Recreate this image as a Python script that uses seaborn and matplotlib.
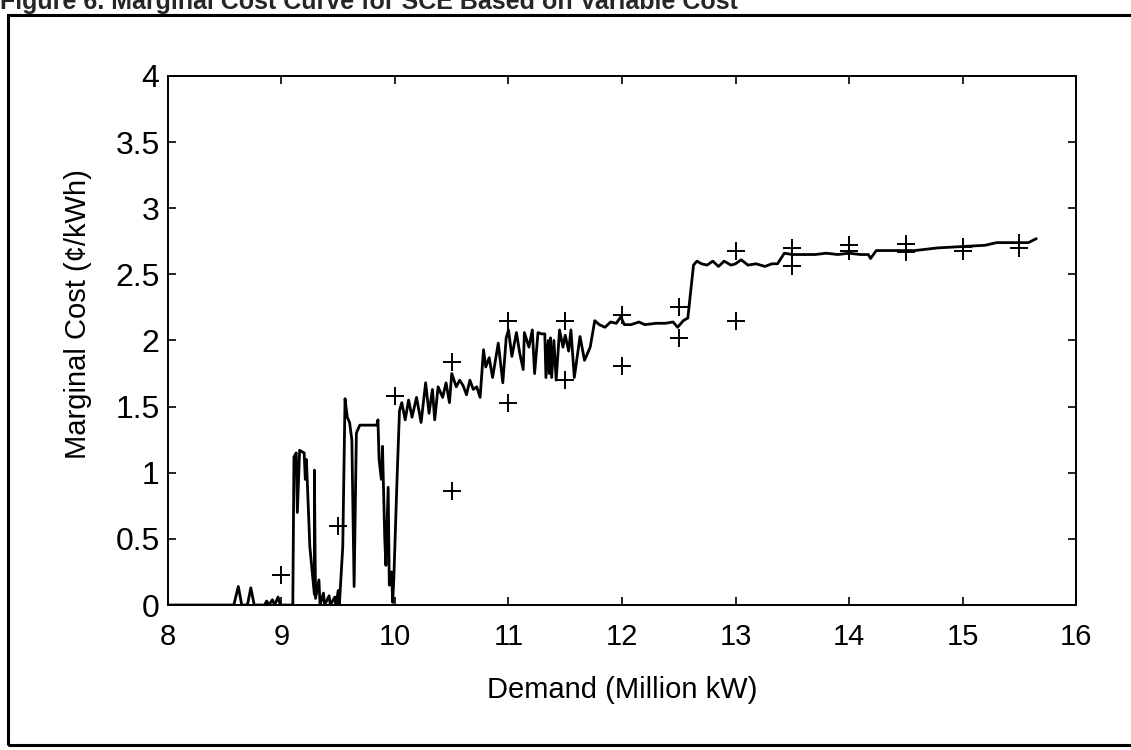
import matplotlib
matplotlib.use('Agg')
import matplotlib.pyplot as plt
import matplotlib.patches as patches
import seaborn as sns

# marginal cost curve (in drawing order)
demand = [8.00, 8.58, 8.62, 8.65, 8.70, 8.73, 8.76, 8.85, 8.87, 8.89, 8.92, 8.94, 8.97, 8.99,
          9.10, 9.11, 9.13, 9.14, 9.16, 9.20, 9.21, 9.22, 9.25, 9.29, 9.29, 9.30, 9.33, 9.34,
          9.37, 9.38, 9.42, 9.43, 9.47, 9.48, 9.50, 9.51, 9.54, 9.56, 9.58, 9.60, 9.62, 9.64,
          9.66, 9.69, 9.84, 9.85, 9.86, 9.88, 9.89, 9.91, 9.92, 9.94, 9.95, 9.97, 9.98, 9.99,
          10.02, 10.04, 10.06, 10.09, 10.12, 10.15, 10.19, 10.23, 10.27, 10.30, 10.33, 10.35,
          10.38, 10.42, 10.45, 10.48, 10.50, 10.54, 10.57, 10.60, 10.63, 10.66, 10.69, 10.72,
          10.75, 10.78, 10.80, 10.83, 10.86, 10.91, 10.95, 10.98, 11.00, 11.03, 11.07, 11.10,
          11.13, 11.14, 11.18, 11.21, 11.23, 11.26, 11.29, 11.32, 11.33, 11.35, 11.36, 11.37,
          11.38, 11.40, 11.42, 11.45, 11.48, 11.50, 11.53, 11.55, 11.58, 11.63, 11.67, 11.72,
          11.76, 11.80, 11.85, 11.90, 11.95, 11.99, 12.02, 12.08, 12.15, 12.20, 12.30, 12.38,
          12.45, 12.49, 12.54, 12.58, 12.63, 12.66, 12.70, 12.75, 12.80, 12.85, 12.90, 12.96,
          13.00, 13.05, 13.11, 13.18, 13.26, 13.32, 13.37, 13.43, 13.50, 13.60, 13.70, 13.80,
          13.90, 14.00, 14.10, 14.17, 14.19, 14.24, 14.40, 14.58, 14.78, 14.99, 15.20, 15.30,
          15.58, 15.65]
cost = [0.00, 0.00, 0.14, 0.00, 0.00, 0.13, 0.00, 0.00, 0.03, 0.00, 0.04, 0.00, 0.06, 0.00,
        0.00, 1.12, 1.15, 0.70, 1.17, 1.15, 0.95, 1.10, 0.44, 0.08, 1.02, 0.05, 0.19, 0.00,
        0.09, 0.00, 0.07, 0.00, 0.06, 0.00, 0.11, 0.00, 0.44, 1.56, 1.42, 1.38, 1.25, 0.14,
        1.30, 1.36, 1.36, 1.40, 1.10, 0.95, 1.20, 0.50, 0.30, 0.89, 0.15, 0.25, 0.02, 0.20,
        1.00, 1.47, 1.53, 1.40, 1.55, 1.42, 1.57, 1.38, 1.68, 1.45, 1.63, 1.40,
        1.65, 1.57, 1.68, 1.53, 1.75, 1.65, 1.70, 1.66, 1.59, 1.70, 1.63, 1.65,
        1.57, 1.93, 1.80, 1.87, 1.72, 1.98, 1.68, 2.02, 2.08, 1.88, 2.06, 1.90,
        1.78, 2.06, 1.95, 2.08, 1.75, 2.06, 2.05, 2.05, 1.72, 2.00, 1.75, 2.02,
        1.72, 2.00, 1.70, 2.08, 1.95, 2.04, 1.92, 2.08, 1.72, 2.03, 1.85, 1.95,
        2.15, 2.12, 2.10, 2.14, 2.13, 2.18, 2.12, 2.12, 2.14, 2.12, 2.13, 2.13,
        2.14, 2.10, 2.15, 2.17, 2.57, 2.60, 2.58, 2.57, 2.60, 2.56, 2.60, 2.57,
        2.58, 2.61, 2.57, 2.58, 2.56, 2.58, 2.58, 2.66, 2.65, 2.65, 2.65, 2.66,
        2.65, 2.66, 2.65, 2.65, 2.62, 2.68, 2.68, 2.68, 2.70, 2.71, 2.72, 2.74,
        2.74, 2.77]

# sampled points (+ markers)
pt_demand = [9.0, 9.5, 10.0, 10.5, 10.5, 11.0, 11.0, 11.5, 11.5, 12.0, 12.0, 12.5, 12.5,
             13.0, 13.0, 13.5, 13.5, 14.0, 14.0, 14.5, 14.5, 15.0, 15.0, 15.5, 15.5]
pt_cost = [0.23, 0.60, 1.58, 1.84, 0.86, 2.15, 1.53, 2.15, 1.70, 2.19, 1.81, 2.25, 2.02,
           2.68, 2.15, 2.70, 2.56, 2.72, 2.68, 2.73, 2.67, 2.71, 2.68, 2.74, 2.70]

xticks = [8, 9, 10, 11, 12, 13, 14, 15, 16]
yticks = [0, 0.5, 1, 1.5, 2, 2.5, 3, 3.5, 4]
ytick_labels = ['0', '0.5', '1', '1.5', '2', '2.5', '3', '3.5', '4']

sns.set_style('ticks')
plt.rcParams['font.family'] = ['Liberation Sans', 'DejaVu Sans']

fig = plt.figure(figsize=(11.31, 7.5), dpi=100)
ax = fig.add_axes([0.1485, 0.1933, 0.8029, 0.7054])

sns.lineplot(x=demand, y=cost, sort=False, estimator=None, color='black', linewidth=2.0, ax=ax)
sns.scatterplot(x=pt_demand, y=pt_cost, marker='+', s=170, color='black', linewidth=1.4, ax=ax)

ax.set_xlim(8, 16)
ax.set_ylim(0, 4)
ax.set_xticks(xticks)
ax.set_yticks(yticks)
ax.set_yticklabels(ytick_labels)
ax.tick_params(direction='in', top=True, right=True, length=6, width=1.2, colors='black')
ax.tick_params(axis='x', pad=13, labelsize=21)
ax.tick_params(axis='y', pad=6, labelsize=23)
for s in ax.spines.values():
    s.set_visible(True)
    s.set_linewidth(1.4)
    s.set_color('black')
ax.set_xlabel('Demand (Million kW)', fontsize=21, labelpad=18, color='black')
ax.set_ylabel('Marginal Cost (\u00a2/kWh)', fontsize=21, labelpad=9, color='black')
ax.yaxis.set_label_coords(-0.084, 0.55)

# page frame and clipped figure caption
frame = patches.Rectangle((8 / 1131, 1 - 745 / 750), 1.05, (745 - 15) / 750,
                          transform=fig.transFigure, fill=False, edgecolor='black', linewidth=2.2)
fig.patches.append(frame)
fig.text(0.0, 1 - 9 / 750, 'Figure 6. Marginal Cost Curve for SCE Based on Variable Cost',
         fontsize=18, fontweight='bold', va='baseline', ha='left')

fig.savefig('out.png', dpi=100)
